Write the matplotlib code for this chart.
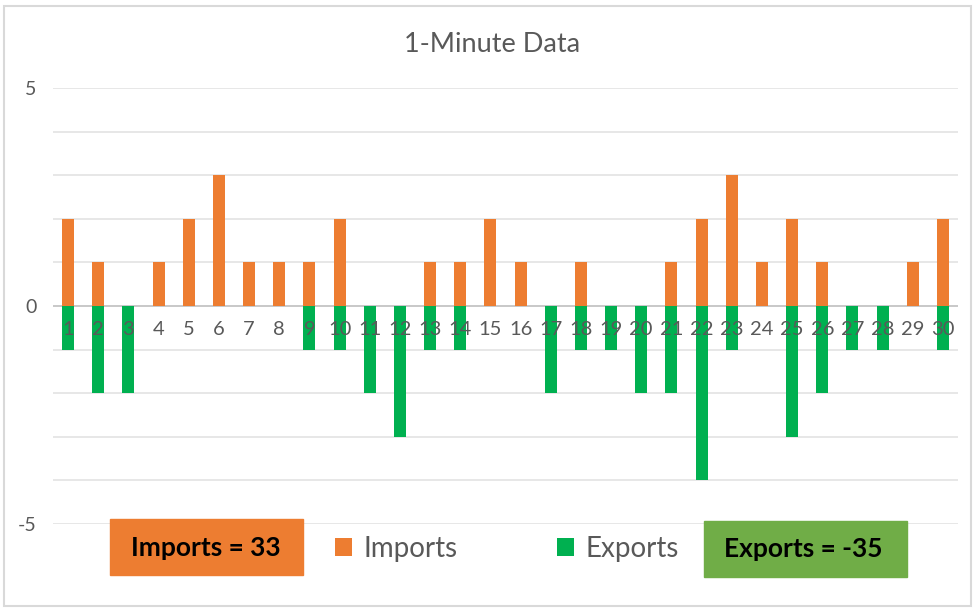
import matplotlib.pyplot as plt
from matplotlib.patches import Rectangle

minutes = list(range(1, 31))
imports = [2, 1, 0, 1, 2, 3, 1, 1, 1, 2, 0, 0, 1, 1, 2, 1, 0, 1, 0, 0,
           1, 2, 3, 1, 2, 1, 0, 0, 1, 2]
exports = [-1, -2, -2, 0, 0, 0, 0, 0, -1, -1, -2, -3, -1, -1, 0, 0, -2, -1, -1, -2,
           -2, -4, -1, 0, -3, -2, -1, -1, 0, -1]
y_ticks = [-5, 0, 5]

ORANGE = "#ED7D31"
GREEN = "#00B050"
GREY = "#595959"

plt.rcParams["font.family"] = ["Lato", "DejaVu Sans"]

fig = plt.figure(figsize=(9.73, 6.1), dpi=100)
ax = fig.add_axes([53 / 973, 1 - 524 / 610, 905 / 973, 436 / 610])

# light grid at every unit, zero line a bit darker
for y in range(-5, 6):
    ax.axhline(y, color="#BFBFBF" if y == 0 else "#E3E3E3", lw=1.2, zorder=0)

ax.bar(minutes, imports, width=0.4, color=ORANGE, zorder=2, label="Imports")
ax.bar(minutes, exports, width=0.4, color=GREEN, zorder=2, label="Exports")

for m in minutes:
    ax.text(m, -0.55, str(m), ha="center", va="center", fontsize=14.5, color=GREY, zorder=3)

ax.set_xlim(0.5, 30.5)
ax.set_ylim(-5, 5)
ax.set_xticks([])
ax.set_yticks(y_ticks)
ax.set_yticklabels([str(t) for t in y_ticks], color=GREY, fontsize=14)
ax.tick_params(axis="y", length=0, pad=12)
for s in ax.spines.values():
    s.set_visible(False)

fig.text(492 / 973, 1 - 44 / 610, "1-Minute Data", ha="center", va="center",
         fontsize=19.5, color=GREY)

fig.legend(loc="center", bbox_to_anchor=(507 / 973, 1 - 549 / 610), ncol=2,
           frameon=False, fontsize=20, labelcolor=GREY, handlelength=0.6,
           handleheight=0.6, columnspacing=3.6, handletextpad=0.4)

# summary boxes
fig.patches.append(Rectangle((110 / 973, 1 - 575 / 610), 193 / 973, 56 / 610,
                             transform=fig.transFigure, color=ORANGE, zorder=1))
fig.text(206 / 973, 1 - 548 / 610, "Imports = 33", ha="center", va="center",
         fontsize=19, fontweight="bold", color="black")
fig.patches.append(Rectangle((704 / 973, 1 - 577 / 610), 203 / 973, 56 / 610,
                             transform=fig.transFigure, color="#70AD47", zorder=1))
fig.text(803 / 973, 1 - 549 / 610, "Exports = -35", ha="center", va="center",
         fontsize=19, fontweight="bold", color="black")

# outer frame
fig.patches.append(Rectangle((4 / 973, 1 - 606 / 610), 967 / 973, 600 / 610,
                             transform=fig.transFigure, fill=False,
                             edgecolor="#D9D9D9", lw=1.5))

fig.savefig("out.png", dpi=100)
